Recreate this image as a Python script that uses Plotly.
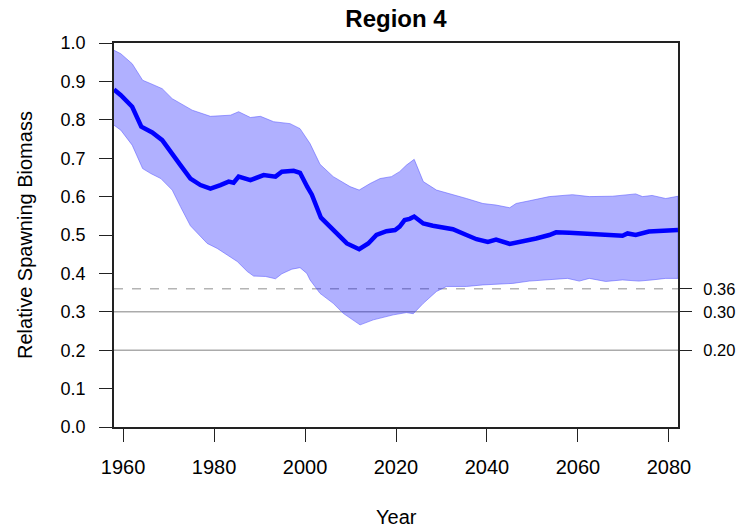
import plotly.graph_objects as go

# Median relative spawning biomass trajectory
median_years = [1958, 1959.5, 1962, 1964, 1966.4, 1968.6, 1972.6, 1974.8, 1977, 1979.2,
                1981.4, 1983.2, 1984.3, 1985.4, 1988, 1990.9, 1993.5, 1994.9, 1997.5, 1998.9,
                2000.5, 2001.5, 2003.5, 2006.2, 2009.2, 2011.9, 2013.9, 2015.7, 2017.9, 2019.8,
                2020.8, 2021.9, 2023, 2024, 2026, 2028.1, 2030.3, 2032.5, 2035.5, 2037.7,
                2040.2, 2042, 2045, 2047.9, 2050.8, 2053.7, 2055.2, 2058.1, 2061, 2063.9,
                2066.9, 2069.8, 2070.9, 2072.7, 2075.6, 2078.5, 2082]
median_vals = [0.879, 0.864, 0.834, 0.782, 0.767, 0.747, 0.682, 0.647, 0.630, 0.621,
               0.630, 0.639, 0.636, 0.652, 0.643, 0.656, 0.652, 0.665, 0.667, 0.662,
               0.625, 0.605, 0.545, 0.513, 0.478, 0.463, 0.478, 0.500, 0.510, 0.513,
               0.522, 0.539, 0.542, 0.548, 0.530, 0.524, 0.520, 0.515, 0.500, 0.489,
               0.482, 0.488, 0.477, 0.483, 0.491, 0.500, 0.507, 0.506, 0.504, 0.500,
               0.500, 0.498, 0.504, 0.500, 0.509, 0.512, 0.513]

# Upper bound of the uncertainty interval
upper_years = [1958, 1959.5, 1962, 1964.3, 1966.1, 1968.6, 1970.8, 1975.2, 1979.2, 1982.1,
               1983.6, 1985.4, 1988, 1990.2, 1993.1, 1996.7, 1998.9, 2001.1, 2003.3, 2006.2,
               2009.9, 2011.9, 2014.3, 2016.5, 2019, 2020.8, 2022.3, 2024, 2026, 2028.9,
               2031.8, 2035.5, 2039.1, 2042, 2045, 2046.4, 2049.3, 2053.7, 2058.8, 2062.5,
               2067.6, 2072.7, 2074.2, 2076.3, 2079.3, 2082]
upper_vals = [0.981, 0.972, 0.946, 0.903, 0.894, 0.881, 0.855, 0.825, 0.809, 0.812,
              0.812, 0.821, 0.806, 0.809, 0.795, 0.790, 0.777, 0.738, 0.684, 0.652,
              0.626, 0.617, 0.634, 0.647, 0.652, 0.665, 0.682, 0.697, 0.639, 0.617,
              0.608, 0.595, 0.582, 0.578, 0.571, 0.582, 0.589, 0.600, 0.605, 0.600,
              0.601, 0.607, 0.600, 0.603, 0.595, 0.601]

# Lower bound of the uncertainty interval
lower_years = [1958, 1959.5, 1962, 1964.3, 1966.1, 1968.3, 1970.8, 1972.6, 1974.8, 1978.5,
               1980.7, 1982.9, 1985.1, 1987.3, 1988.7, 1991.3, 1993.5, 1994.9, 1997.1, 1998.9,
               2000.4, 2001.1, 2003.3, 2006.2, 2008.4, 2012.1, 2015, 2019.4, 2022.3, 2023.8,
               2026, 2028.9, 2031.1, 2035.5, 2039.1, 2042.8, 2045.7, 2049.3, 2053.7, 2057.7,
               2060.3, 2062.5, 2066.1, 2069.8, 2073.4, 2076.3, 2079.3, 2082]
lower_vals = [0.786, 0.773, 0.734, 0.673, 0.660, 0.647, 0.617, 0.574, 0.524, 0.478,
              0.465, 0.448, 0.431, 0.405, 0.393, 0.392, 0.386, 0.399, 0.411, 0.415,
              0.400, 0.383, 0.348, 0.322, 0.296, 0.266, 0.279, 0.292, 0.298, 0.295,
              0.322, 0.353, 0.366, 0.366, 0.370, 0.373, 0.374, 0.380, 0.383, 0.387,
              0.380, 0.387, 0.379, 0.383, 0.380, 0.383, 0.387, 0.387]

# Reference levels shown on the right-hand axis
ref_levels = [0.36, 0.30, 0.20]
ref_labels = ["0.36", "0.30", "0.20"]
ref_dash = ["dash", "solid", "solid"]

x_ticks = [1960, 1980, 2000, 2020, 2040, 2060, 2080]
y_ticks = [0.0, 0.1, 0.2, 0.3, 0.4, 0.5, 0.6, 0.7, 0.8, 0.9, 1.0]

FONT = "Liberation Sans, Arial, sans-serif"

fig = go.Figure()

# Shaded interval: upper edge forward, lower edge backward
fig.add_trace(go.Scatter(
    x=upper_years + lower_years[::-1],
    y=upper_vals + lower_vals[::-1],
    fill="toself",
    fillcolor="rgba(0,0,255,0.31)",
    line=dict(color="rgba(90,90,255,0.55)", width=1),
    mode="lines",
    hoverinfo="skip",
    showlegend=False,
))

fig.add_trace(go.Scatter(
    x=median_years, y=median_vals,
    mode="lines",
    line=dict(color="#0000FF", width=4.5),
    showlegend=False,
))

# Anchor trace so the right-hand axis is drawn
fig.add_trace(go.Scatter(
    x=[median_years[0]], y=[ref_levels[0]], yaxis="y2",
    mode="markers", marker=dict(opacity=0), hoverinfo="skip", showlegend=False,
))

for lvl, dash in zip(ref_levels, ref_dash):
    fig.add_shape(
        type="line", xref="paper", x0=0, x1=1, yref="y", y0=lvl, y1=lvl,
        line=dict(color="#B4B4B4" if dash == "dash" else "#ABABAB", width=1.5, dash=dash),
        layer="below",
    )

axis_line = dict(showline=True, linecolor="#222222", linewidth=1.5, mirror=True)

fig.update_layout(
    width=738, height=529,
    margin=dict(l=114, r=60, t=43, b=102, autoexpand=False),
    paper_bgcolor="white", plot_bgcolor="white",
    font=dict(family=FONT, color="black"),
    title=dict(text="<b>Region 4</b>", x=0.5, xref="paper", xanchor="center",
               y=1 - 19 / 529, yref="container", yanchor="middle",
               font=dict(size=24, family=FONT, color="black")),
    xaxis=dict(range=[1958, 2082], tickvals=x_ticks, ticks="outside", ticklen=13,
               tickwidth=1.3, tickcolor="#222222", showgrid=False, zeroline=False,
               tickfont=dict(size=20), ticklabelstandoff=8, automargin=False, **axis_line),
    yaxis=dict(range=[0, 1], tickvals=y_ticks, tickformat=".1f", ticks="outside",
               ticklen=13, tickwidth=1.3, tickcolor="#222222", showgrid=False,
               zeroline=False, tickfont=dict(size=18), ticklabelstandoff=10,
               automargin=False, **axis_line),
    yaxis2=dict(range=[0, 1], overlaying="y", side="right", tickvals=ref_levels,
                ticktext=ref_labels, ticks="outside", ticklen=13, tickwidth=1.3,
                tickcolor="#222222", showgrid=False, zeroline=False, showline=False,
                tickfont=dict(size=16.5), ticklabelstandoff=8, automargin=False),
    annotations=[
        dict(text="Relative Spawning Biomass", xref="paper", yref="paper",
             x=(25 - 114) / 564, y=0.5, textangle=-90, showarrow=False,
             xanchor="center", yanchor="middle", font=dict(size=20)),
        dict(text="Year", xref="paper", yref="paper",
             x=0.5, y=-(517 - 427) / 385, showarrow=False,
             xanchor="center", yanchor="middle", font=dict(size=20)),
    ],
)

fig.write_html("out.html")
